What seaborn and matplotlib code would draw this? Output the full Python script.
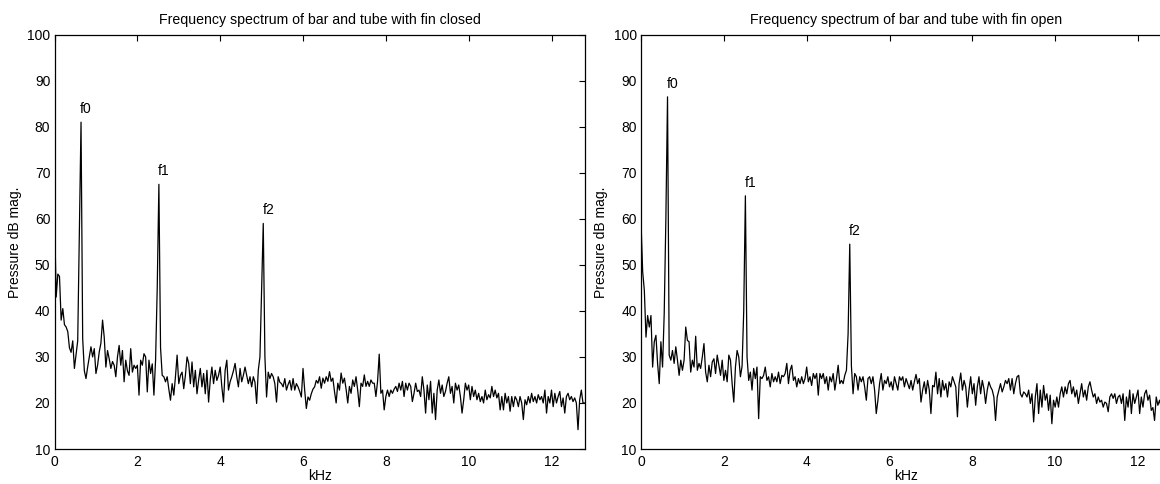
import numpy as np
import pandas as pd
import matplotlib
matplotlib.use("Agg")
import matplotlib.pyplot as plt
import seaborn as sns

# ---------------- data ----------------
FREQ_STEP_KHZ = 0.04  # spectrum bin spacing

closed_db = [
    61, 43, 48, 47.5, 38, 40.5, 37, 36.5, 35.5, 32, 31, 33.5, 27.5, 30.5, 33.5, 57, 81, 34, 27, 25.3,
    27.8, 30, 32.2, 30, 31.8, 26.4, 28.2, 31.1, 33, 38, 34.3, 27.8, 31.4, 29.6, 27.5, 29, 28.2, 25.7, 30, 32.5,
    28.2, 31.4, 24.6, 29.3, 27, 26, 31.8, 26.7, 28.2, 27.5, 28.2, 21.7, 29.3, 28.2, 30.7, 30, 22.4, 29.3, 26.4, 28.5,
    21.7, 29.3, 45, 67.5, 32, 26, 25.7, 24.6, 25.7, 23, 20.6, 24.2, 21.7, 25.7, 30.4, 24.2, 26, 26.7, 23.1, 26,
    30, 28.6, 24.2, 28.9, 23.5, 27.1, 22, 25, 27.5, 23.5, 26.4, 22, 27.1, 20.2, 25, 27.8, 24.2, 27.1, 24.9, 26,
    27.8, 23.5, 20.2, 27.1, 29.3, 22.8, 24.6, 25.7, 27, 28.6, 25.7, 23.5, 27.5, 24.6, 26, 27.8, 26, 24.2, 25.7, 23.5,
    25.7, 24.5, 19.9, 27.1, 30, 45, 59, 30, 21.3, 26.7, 25.3, 26.4, 25.7, 24.2, 20.2, 25.7, 24.5, 24.2, 23.5, 25.3,
    22.8, 24, 24.9, 22.8, 25.3, 22.8, 24.2, 23.5, 22.5, 21.3, 27.5, 22.8, 18.8, 21.3, 20.6, 22, 23, 23.5, 24.9, 24.3,
    25.7, 23.2, 25.4, 24.3, 25.7, 24.7, 26.8, 24.7, 25.4, 22.5, 20, 24.3, 22.8, 26.5, 24.3, 25.4, 23, 20, 23.6, 22.1,
    25, 23.6, 25.7, 22.8, 19.2, 24.3, 23.6, 26.1, 23.6, 24.7, 23.6, 25, 24.3, 24.3, 21.4, 24.7, 30.6, 22.1, 22.8, 18.5,
    21.4, 22.8, 21.4, 22.8, 22.1, 23, 23.6, 22.5, 24.3, 22.8, 24.7, 21.4, 24.3, 22.8, 24.3, 23.6, 20.3, 22.1, 24.3, 22.5,
    22.8, 21.4, 25.7, 22.8, 17.8, 23.9, 20.7, 24.7, 17.8, 22.1, 16.4, 22.8, 25, 22.1, 23.9, 21.4, 22.5, 24.3, 25.7, 22.1,
    23.6, 20, 24.3, 22.8, 23.9, 21.4, 17.8, 20.7, 24.3, 22.8, 23.9, 20.7, 23.6, 21.4, 22.8, 20.7, 22.1, 20.3, 21.4, 20,
    22.8, 20.7, 21.8, 21.1, 23.6, 21.4, 22.8, 21.1, 22.1, 18.5, 21.4, 18.5, 22.1, 20, 21.4, 18.2, 21.4, 19.2, 21.4, 20.7,
    19.2, 21.4, 20, 16.4, 20.7, 19.6, 21.4, 20, 22.1, 20.3, 21.4, 20, 21.8, 20.7, 21.4, 20, 22.8, 17.8, 21.4, 20,
    22.8, 19.2, 22.1, 20, 21.4, 22.5, 19.2, 21.1, 17.8, 21.4, 22.1, 20.7, 21.4, 20.3, 21.1, 20, 14.2, 20.7, 22.8, 20,
    20,
]

open_db = [
    59.3, 48.5, 44.5, 34.3, 39, 36.5, 39, 27.8, 33.3, 34.7, 28.6, 24.2, 33.3, 27.8, 39.4, 60, 86.5, 30.4, 29.3, 31.4,
    28.6, 32.2, 29.3, 26, 29.3, 27.1, 29.3, 36.5, 33.6, 33.3, 26.7, 29.3, 27.8, 34.5, 27.1, 28.6, 27.5, 30, 32.9, 26.7,
    24.6, 28.2, 25.7, 28.9, 29.6, 26.4, 30.4, 28.2, 26, 29.3, 24.9, 27.1, 24.6, 30.4, 29.3, 24.2, 20.2, 27.8, 31.4, 30,
    25.7, 28, 40, 65, 30, 24.9, 26.7, 22.8, 27.5, 25.3, 27.8, 16.6, 25.7, 25.3, 26, 27.8, 24.9, 25.7, 23.5, 26.4,
    24.6, 25.7, 24.6, 26.7, 24.2, 26, 25.7, 26.4, 28.6, 24.2, 27.1, 28.2, 24.9, 25.7, 23.5, 25.3, 24.2, 25.7, 24.2, 25.3,
    27.8, 24.6, 25.7, 23.8, 26.4, 25.3, 26.4, 21.7, 26.4, 25.3, 26.4, 24.2, 25.7, 22.8, 25.7, 24.6, 26.4, 22.8, 25.3, 28.2,
    24.2, 24.9, 24.2, 26, 27.1, 35, 54.5, 28, 22, 26.4, 25.7, 22.8, 25.7, 24.6, 25.7, 23.5, 20.6, 25.3, 25.7, 24.2,
    25.7, 22.8, 17.7, 20.6, 24.2, 26.4, 22.8, 24.9, 24.2, 25.7, 23.5, 24.6, 22.8, 25.7, 24.2, 22.8, 25.7, 24.9, 25.7, 23.5,
    25.3, 24.2, 23.1, 24.9, 22.8, 24.6, 26.2, 24.2, 25.3, 20.2, 22.8, 24.6, 22, 24.9, 22.8, 17.7, 23.8, 23.5, 26.7, 22,
    25.3, 21.3, 24.9, 22.8, 24.2, 21.3, 24.6, 23.5, 25.7, 24.6, 23.5, 17, 24.2, 26.5, 22.8, 24.9, 23.5, 19.1, 22.8, 25.7,
    22, 24.2, 19.5, 23.5, 25.7, 22, 24.9, 23.1, 19.9, 22.8, 24.6, 23.5, 22.8, 21.3, 16.2, 21.3, 22.8, 24.2, 22.4, 23.5,
    24.9, 24.2, 25.3, 22.8, 25.3, 22, 24.2, 25.7, 26, 22, 21.3, 22.4, 22, 21.3, 22.8, 19.9, 22, 15.9, 21.3, 24.2,
    17.7, 22.8, 19.1, 23.8, 20.6, 22, 18.4, 21.7, 15.5, 20.6, 19.1, 21.3, 19.1, 22, 23.5, 21.3, 23.5, 22, 24.2, 24.9,
    22, 23.5, 21.3, 22.8, 19.9, 22, 24.2, 21.3, 22.8, 20.6, 23.5, 24.6, 22.8, 21.3, 22, 19.9, 21.3, 20.2, 20.6, 19.1,
    20.2, 19.9, 18.1, 21.3, 22, 21, 22, 19.9, 21.3, 21.7, 19.9, 22, 16.2, 21.3, 19.1, 22.8, 17.7, 22, 19.9, 21.3,
    22.8, 17.7, 21.3, 19.1, 22, 22.8, 20.6, 21.7, 18.4, 19, 16.2, 21.3, 19.5, 20.6, 19.1, 21.3, 19.9, 21, 18.5, 20.5,
    19.5,
]

peak_labels = ["f0", "f1", "f2"]
peak_khz = [0.64, 2.52, 5.04]

titles = [
    "Frequency spectrum of bar and tube with fin closed",
    "Frequency spectrum of bar and tube with fin open",
]
x_ticks = [0, 2, 4, 6, 8, 10, 12]
y_ticks = [10, 20, 30, 40, 50, 60, 70, 80, 90, 100]

# ---------------- plotting ----------------
sns.set_theme(style="white")
plt.rcParams["font.family"] = ["Liberation Sans", "DejaVu Sans"]
plt.rcParams["axes.unicode_minus"] = False

fig = plt.figure(figsize=(11.6, 4.84), dpi=100)
positions = [
    [0.047, 0.0723, 0.457, 0.856],
    [0.5526, 0.0723, 0.457, 0.856],
]

for pos, series, title in zip(positions, [closed_db, open_db], titles):
    ax = fig.add_axes(pos)
    freq = np.arange(len(series)) * FREQ_STEP_KHZ
    df = pd.DataFrame({"kHz": freq, "dB": series})
    sns.lineplot(data=df, x="kHz", y="dB", ax=ax, color="black",
                 linewidth=0.9, estimator=None, sort=False)
    ax.set_xlim(0, 12.8)
    ax.set_ylim(10, 100)
    ax.set_xticks(x_ticks)
    ax.set_yticks(y_ticks)
    ax.tick_params(direction="in", length=4.5, width=0.8, top=True, right=True,
                   labelsize=10, colors="black", pad=3)
    ax.tick_params(axis="x", pad=4)
    for s in ax.spines.values():
        s.set_color("black")
        s.set_linewidth(0.9)
        s.set_visible(True)
    ax.set_title(title, fontsize=10.2, pad=8, color="black")
    ax.set_xlabel("kHz", fontsize=10, labelpad=0, color="black")
    ax.set_ylabel("Pressure dB mag.", fontsize=10, labelpad=4, color="black")
    ax.grid(False)
    for lab, fk in zip(peak_labels, peak_khz):
        idx = int(round(fk / FREQ_STEP_KHZ))
        ax.text(fk - 0.02, series[idx] + 1.3, lab, fontsize=10,
                ha="left", va="bottom", color="black")

fig.savefig("out.png", dpi=100, facecolor="white")
